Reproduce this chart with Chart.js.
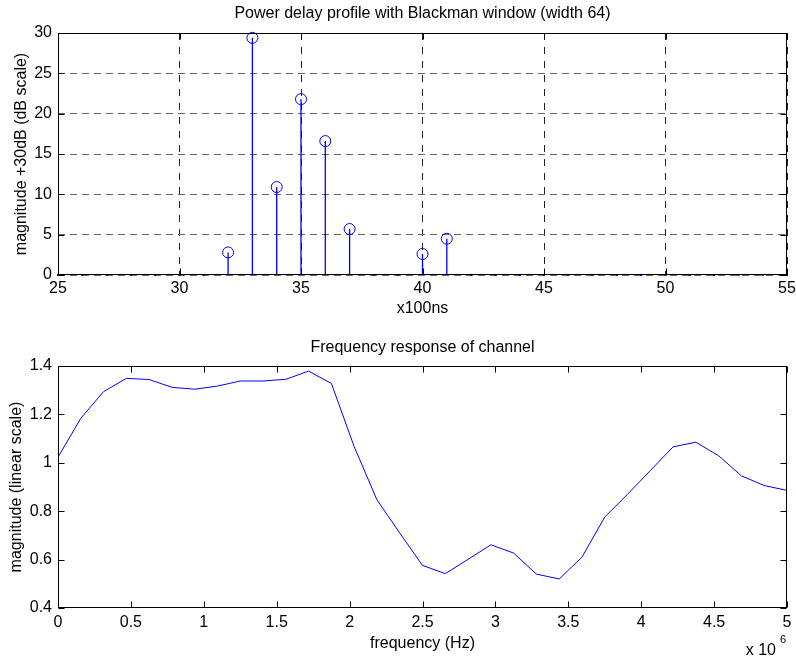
<!DOCTYPE html>
<html>
<head>
<meta charset="utf-8">
<script src="https://cdn.jsdelivr.net/npm/chart.js@4"></script>
<style>
  html, body { margin: 0; padding: 0; background: #fff; }
  .pane { position: absolute; left: 0; width: 796px; }
</style>
</head>
<body>
<div class="pane" style="top:0;height:330px"><canvas id="pdp"></canvas></div>
<div class="pane" style="top:330px;height:332px"><canvas id="freq"></canvas></div>
<script>
// power delay profile (x100ns)
const delays = [25, 26, 27, 28, 29, 30, 31, 32, 33, 34, 35, 36, 37, 38, 39, 40,
                41, 42, 43, 44, 45, 46, 47, 48, 49, 50, 51, 52, 53, 54, 55];
const powerDb = [0, 0, 0, 0, 0, 0, 0, 2.8, 29.4, 10.9, 21.8, 16.6, 5.7, 0, 0, 2.6,
                 4.5, 0, 0, 0, 0, 0, 0, 0, 0, 0, 0, 0, 0, 0, 0];
const delayTickLabels = ['25', '30', '35', '40', '45', '50', '55'];
const powerTickLabels = ['0', '5', '10', '15', '20', '25', '30'];

// frequency response
const freqHz = [0, 156250, 312500, 468750, 625000, 781250, 937500, 1093750, 1250000,
                1406250, 1562500, 1718750, 1875000, 2031250, 2187500, 2343750, 2500000,
                2656250, 2812500, 2968750, 3125000, 3281250, 3437500, 3593750, 3750000,
                3906250, 4062500, 4218750, 4375000, 4531250, 4687500, 4843750, 5000000];
const magnitude = [1.023, 1.184, 1.294, 1.349, 1.344, 1.312, 1.304, 1.317, 1.338,
                   1.338, 1.345, 1.379, 1.328, 1.067, 0.847, 0.71, 0.576,
                   0.542, 0.601, 0.661, 0.627, 0.540, 0.520, 0.610, 0.776,
                   0.87, 0.968, 1.066, 1.085, 1.029, 0.946, 0.906, 0.886];
const freqTickLabels = ['0', '0.5', '1', '1.5', '2', '2.5', '3', '3.5', '4', '4.5', '5'];
const magTickLabels = ['0.4', '0.6', '0.8', '1', '1.2', '1.4'];

const FONT = 'Arial, "Liberation Sans", Helvetica, sans-serif';
const FS = 16;
const BLUE = '#0000ff';
Chart.defaults.font.family = FONT;
Chart.defaults.color = '#000';
Chart.defaults.animation = false;

// box around the plot and inward tick marks, like matlab axes
const frame = {
  id: 'frame',
  afterDatasetsDraw(chart) {
    const { ctx, chartArea: a, scales } = chart;
    const L = Math.round(a.left) + 0.5, R = Math.round(a.right) - 0.5;
    const T = Math.round(a.top) + 0.5, B = Math.round(a.bottom) - 0.5;
    ctx.save();
    ctx.strokeStyle = '#000';
    ctx.lineWidth = 1;
    ctx.beginPath();
    scales.x.ticks.forEach(t => {
      const px = Math.round(scales.x.getPixelForValue(t.value)) + 0.5;
      ctx.moveTo(px, B); ctx.lineTo(px, B - 6);
      ctx.moveTo(px, T); ctx.lineTo(px, T + 6);
    });
    scales.y.ticks.forEach(t => {
      const py = Math.round(scales.y.getPixelForValue(t.value)) + 0.5;
      ctx.moveTo(L, py); ctx.lineTo(L + 6, py);
      ctx.moveTo(R, py); ctx.lineTo(R - 6, py);
    });
    ctx.stroke();
    ctx.strokeRect(L, T, R - L, B - T);
    ctx.restore();
  }
};

// "x 10^6" exponent under the frequency axis
const exponent = {
  id: 'exponent',
  afterDraw(chart) {
    const ctx = chart.ctx;
    ctx.save();
    ctx.fillStyle = '#000';
    ctx.textBaseline = 'alphabetic';
    ctx.textAlign = 'right';
    ctx.font = '16px ' + FONT;
    ctx.fillText('x 10', 776, 325);
    ctx.textAlign = 'left';
    ctx.font = '11px ' + FONT;
    ctx.fillText('6', 780, 313);
    ctx.restore();
  }
};

// fixed axis sizes so both plot boxes line up with the original
const fitX = h => s => { s.height = h; s.paddingLeft = 0; s.paddingRight = 0; };
const fitY = s => { s.width = 58; };

// ---- top: stem plot ----
// stems as separate segments from 0 up to the value, broken by nulls
const stems = [], circles = [], dots = [];
delays.forEach((d, i) => {
  if (powerDb[i] > 0) {
    stems.push({ x: d, y: 0 }, { x: d, y: powerDb[i] }, { x: d, y: null });
    circles.push({ x: d, y: powerDb[i] });
  } else {
    dots.push({ x: d, y: 0 });
  }
});

new Chart(document.getElementById('pdp'), {
  type: 'scatter',
  data: {
    datasets: [
      { data: stems, showLine: true, spanGaps: false, pointRadius: 0, borderColor: BLUE, borderWidth: 1.3 },
      { data: circles, pointStyle: 'circle', pointRadius: 5.5, borderColor: BLUE, backgroundColor: 'rgba(0,0,0,0)', borderWidth: 1, clip: false },
      { data: dots, pointStyle: 'rect', pointRadius: 1.5, borderWidth: 0, backgroundColor: BLUE, clip: false }
    ]
  },
  options: {
    responsive: true,
    maintainAspectRatio: false,
    layout: { padding: { right: 9 } },
    plugins: {
      legend: { display: false },
      tooltip: { enabled: false },
      title: {
        display: true,
        fullSize: false,
        text: 'Power delay profile with Blackman window (width 64)',
        font: { size: FS, weight: 'normal' },
        padding: { top: 4, bottom: 9.8 }
      }
    },
    scales: {
      x: {
        type: 'linear', min: 25, max: 55, offset: false,
        afterFit: fitX(55),
        ticks: { stepSize: 5, padding: 3.5, maxRotation: 0, font: { size: FS },
                 callback: (v, i) => delayTickLabels[i] },
        grid: { color: '#222', drawTicks: false, offset: false },
        border: { display: false, dash: [7, 7] },
        title: { display: true, text: 'x100ns', font: { size: FS }, padding: { top: 0, bottom: 11.4 } }
      },
      y: {
        min: 0, max: 30,
        afterFit: fitY,
        ticks: { stepSize: 5, padding: 6, font: { size: FS },
                 callback: (v, i) => powerTickLabels[i] },
        grid: { color: '#666', drawTicks: false },
        border: { display: false, dash: [7, 5] },
        title: { display: true, text: 'magnitude +30dB (dB scale)', font: { size: FS }, padding: { top: 12, bottom: 0 } }
      }
    }
  },
  plugins: [frame]
});

// ---- bottom: frequency response ----
new Chart(document.getElementById('freq'), {
  type: 'line',
  data: {
    datasets: [{
      data: freqHz.map((f, i) => ({ x: f, y: magnitude[i] })),
      borderColor: BLUE, borderWidth: 1, pointRadius: 0, tension: 0, fill: false
    }]
  },
  options: {
    responsive: true,
    maintainAspectRatio: false,
    layout: { padding: { right: 9 } },
    plugins: {
      legend: { display: false },
      tooltip: { enabled: false },
      title: {
        display: true,
        fullSize: false,
        text: 'Frequency response of channel',
        font: { size: FS, weight: 'normal' },
        padding: { top: 7.7, bottom: 9.1 }
      }
    },
    scales: {
      x: {
        type: 'linear', min: 0, max: 5000000,
        afterFit: fitX(54),
        ticks: { stepSize: 500000, padding: 5, maxRotation: 0, font: { size: FS },
                 callback: (v, i) => freqTickLabels[i] },
        grid: { display: false, drawTicks: false },
        border: { display: false },
        title: { display: true, text: 'frequency (Hz)', font: { size: FS }, padding: { top: 0, bottom: 9.1 } }
      },
      y: {
        min: 0.4, max: 1.4,
        afterFit: fitY,
        ticks: { stepSize: 0.2, padding: 6, font: { size: FS },
                 callback: (v, i) => magTickLabels[i] },
        grid: { display: false, drawTicks: false },
        border: { display: false },
        title: { display: true, text: 'magnitude (linear scale)', font: { size: FS }, padding: { top: 7, bottom: 0 } }
      }
    }
  },
  plugins: [frame, exponent]
});
</script>
</body>
</html>
